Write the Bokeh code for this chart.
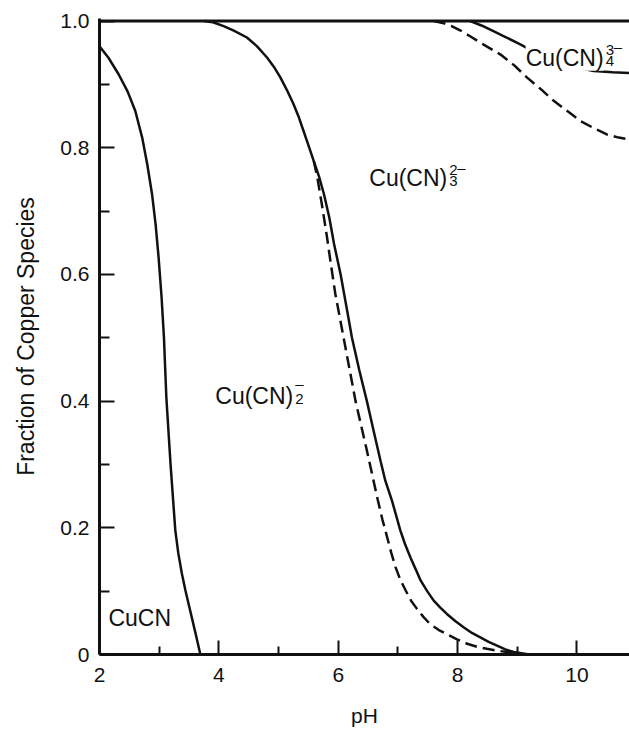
from bokeh.plotting import figure
from bokeh.models import FixedTicker, Label, Span
from bokeh.embed import file_html
from bokeh.resources import INLINE

# ---------------- data ----------------
ph_cucn = [2.00, 2.15, 2.32, 2.47, 2.60, 2.715, 2.80, 2.88, 2.94, 2.99, 3.04, 3.08,
           3.12, 3.19, 3.27, 3.32, 3.38, 3.44, 3.52, 3.61, 3.69]
frac_cucn = [0.960, 0.942, 0.916, 0.889, 0.858, 0.816, 0.774, 0.727, 0.679, 0.627, 0.564, 0.500,
             0.406, 0.301, 0.196, 0.160, 0.128, 0.101, 0.069, 0.033, 0.000]

ph_cn2_solid = [3.75, 3.90, 4.08, 4.25, 4.47, 4.64, 4.81, 4.92, 5.03, 5.14, 5.25, 5.34,
                5.42, 5.50, 5.59, 5.68, 5.76, 5.85, 5.93,
                6.04, 6.13, 6.23, 6.35, 6.48, 6.60, 6.71, 6.79, 6.90, 7.04,
                7.12, 7.21, 7.30, 7.38, 7.49, 7.60, 7.71, 7.82, 7.96, 8.10, 8.24, 8.38,
                8.52, 8.66, 8.80, 8.94, 9.20]
frac_cn2_solid = [1.000, 0.998, 0.992, 0.985, 0.974, 0.960, 0.942, 0.928, 0.911, 0.891, 0.869, 0.848,
                  0.826, 0.804, 0.779, 0.754, 0.727, 0.690, 0.648,
                  0.600, 0.553, 0.500, 0.450, 0.400, 0.350, 0.305, 0.274, 0.243, 0.196,
                  0.174, 0.153, 0.134, 0.117, 0.100, 0.085, 0.074, 0.064, 0.053, 0.043, 0.034, 0.027,
                  0.020, 0.014, 0.008, 0.004, 0.000]

ph_cn2_dashed = [5.59, 5.65, 5.73, 5.81, 5.88, 5.95, 6.07, 6.18, 6.29, 6.48, 6.66, 6.74, 6.82,
                 6.89, 6.96, 7.04, 7.13, 7.22, 7.32, 7.43, 7.54, 7.68, 7.82, 7.99, 8.16, 8.33,
                 8.49, 8.66, 8.83, 9.05]
frac_cn2_dashed = [0.779, 0.753, 0.708, 0.660, 0.614, 0.570, 0.510, 0.455, 0.400, 0.322, 0.245, 0.213, 0.185,
                   0.160, 0.138, 0.118, 0.101, 0.085, 0.072, 0.059, 0.048, 0.039, 0.032, 0.024, 0.017, 0.012,
                   0.009, 0.006, 0.004, 0.000]

ph_cn3_solid = [8.21, 8.40, 8.60, 8.82, 9.05, 9.45, 9.89, 10.08, 10.28, 10.60, 10.88]
frac_cn3_solid = [1.000, 0.993, 0.984, 0.974, 0.963, 0.943, 0.931, 0.925, 0.921, 0.919, 0.918]

ph_cn3_dashed = [7.60, 7.75, 7.90, 8.05, 8.21, 8.45, 8.72, 8.95, 9.16, 9.40, 9.61, 9.85,
                 10.06, 10.30, 10.50, 10.70, 10.88]
frac_cn3_dashed = [1.000, 0.997, 0.992, 0.985, 0.976, 0.962, 0.947, 0.930, 0.911, 0.892, 0.874, 0.857,
                   0.842, 0.830, 0.821, 0.816, 0.813]

x_major = [2, 4, 6, 8, 10]
x_minor = [3, 5, 7, 9]
y_major = [0, 0.2, 0.4, 0.6, 0.8, 1.0]
y_tick_labels = ["0", "0.2", "0.4", "0.6", "0.8", "1.0"]
y_minor = [0.1, 0.3, 0.5, 0.7, 0.9]

x_title = "pH"
y_title = "Fraction of Copper Species"

# species labels: (pH, fraction, main, subscript, superscript)
species = [
    (2.15, 0.057, "CuCN", "", ""),
    (3.94, 0.4085, "Cu(CN)", "2", "\u2013"),
    (6.52, 0.752, "Cu(CN)", "3", "2\u2013"),
    (9.14, 0.942, "Cu(CN)", "4", "3\u2013"),
]

FONT = "Liberation Sans"
INK = "#111111"

p = figure(width=629, height=731, output_backend="svg", toolbar_location=None,
           x_range=(2, 10.88), y_range=(0, 1.004),
           min_border_left=99, min_border_right=0, min_border_top=18,
           min_border_bottom=77)
p.outline_line_color = None
p.xgrid.visible = False
p.ygrid.visible = False
p.background_fill_color = "white"
p.border_fill_color = "white"

for ax in (p.xaxis[0], p.yaxis[0]):
    ax.axis_line_width = 3
    ax.axis_line_color = INK
    ax.major_tick_line_color = INK
    ax.minor_tick_line_color = INK
    ax.major_tick_line_width = 2
    ax.minor_tick_line_width = 2
    ax.major_tick_out = 0
    ax.minor_tick_out = 0
    ax.major_label_text_font = FONT
    ax.major_label_text_font_size = "21px"
    ax.major_label_text_color = INK
    ax.axis_label_text_font = FONT
    ax.axis_label_text_font_size = "21px"
    ax.axis_label_text_font_style = "normal"
    ax.axis_label_text_color = INK

p.xaxis.ticker = FixedTicker(ticks=x_major, minor_ticks=x_minor)
p.xaxis.major_tick_in = 14
p.xaxis.minor_tick_in = 8
p.xaxis.major_label_standoff = 13
p.xaxis.axis_label = x_title
p.xaxis.axis_label_standoff = 19

p.yaxis.ticker = FixedTicker(ticks=y_major, minor_ticks=y_minor)
p.yaxis.major_label_overrides = {v: t for v, t in zip(y_major, y_tick_labels)}
p.yaxis.major_tick_in = 15
p.yaxis.minor_tick_in = 10
p.yaxis.major_label_standoff = 10
p.yaxis.axis_label = y_title
p.yaxis.axis_label_standoff = 18
p.yaxis.axis_label_text_font_size = "23px"

# upper boundary (total = 1)
p.add_layout(Span(location=1.0, dimension="width", line_color=INK, line_width=3))

LW = 2.5
DASH = "12 6"
p.line(ph_cucn, frac_cucn, line_color=INK, line_width=LW)
p.line(ph_cn2_solid, frac_cn2_solid, line_color=INK, line_width=LW)
p.line(ph_cn2_dashed, frac_cn2_dashed, line_color=INK, line_width=LW, line_dash=DASH)
p.line(ph_cn3_solid, frac_cn3_solid, line_color=INK, line_width=LW)
p.line(ph_cn3_dashed, frac_cn3_dashed, line_color=INK, line_width=LW, line_dash=DASH)

MAIN_PX = 23
SMALL_PX = 15
MAIN_W = 79  # width of "Cu(CN)" at MAIN_PX

for (x, y, main, sub, sup) in species:
    p.add_layout(Label(x=x, y=y, text=main, text_font=FONT,
                       text_font_size=f"{MAIN_PX}px", text_color=INK,
                       text_baseline="alphabetic",
                       background_fill_color="white" if sup.startswith("3") else None))
    if sub:
        p.add_layout(Label(x=x, y=y, x_offset=MAIN_W + 1, y_offset=-3, text=sub,
                           text_font=FONT, text_font_size=f"{SMALL_PX}px",
                           text_color=INK, text_baseline="alphabetic"))
    if sup:
        if len(sup) == 1:
            p.add_layout(Label(x=x, y=y, x_offset=MAIN_W + 1, y_offset=12, text=sup,
                               text_font=FONT, text_font_size=f"{SMALL_PX}px",
                               text_color=INK, text_baseline="alphabetic"))
        else:
            p.add_layout(Label(x=x, y=y, x_offset=MAIN_W + 1, y_offset=8, text=sup[0],
                               text_font=FONT, text_font_size=f"{SMALL_PX}px",
                               text_color=INK, text_baseline="alphabetic"))
            p.add_layout(Label(x=x, y=y, x_offset=MAIN_W + 9, y_offset=11, text=sup[1:],
                               text_font=FONT, text_font_size=f"{SMALL_PX}px",
                               text_color=INK, text_baseline="alphabetic"))

open("out.html", "w").write(file_html(p, INLINE))
